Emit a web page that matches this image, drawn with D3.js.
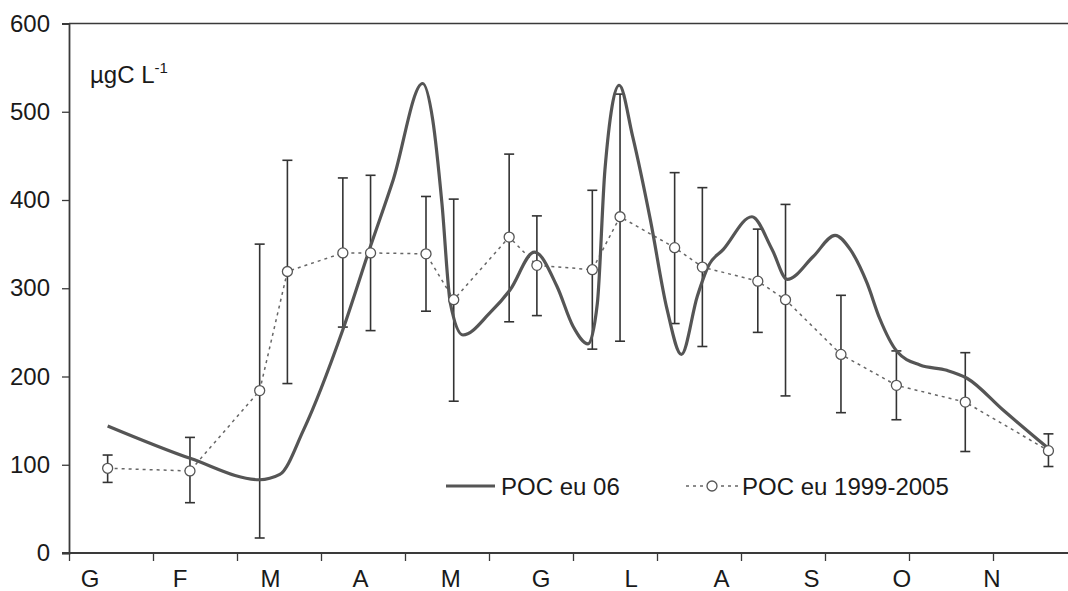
<!DOCTYPE html>
<html lang="en">
<head>
<meta charset="UTF-8" />
<title>POC eu</title>
<script src="https://cdn.jsdelivr.net/npm/d3@7"></script>
<style>
  html, body { margin: 0; background: #fff; }
  svg { display: block; font-family: "Liberation Sans", Arial, sans-serif; }
</style>
</head>
<body>
<div id="chart"></div>
<script>
// x positions are in months from 1 January (0 = start of G, 12 = end of D)
const monthLabels = ["G", "F", "M", "A", "M", "G", "L", "A", "S", "O", "N"];
const yTicks = [0, 100, 200, 300, 400, 500, 600];

// POC eu 06 (smoothed line)
const poc06Month = [0.46, 1.45, 2.27, 2.51, 2.79, 3.26, 3.58, 3.86, 4.21, 4.33, 4.44, 4.54, 4.69, 5.01,
  5.25, 5.54, 5.81, 6.00, 6.18, 6.29, 6.38, 6.55, 6.71, 6.92, 7.12, 7.29, 7.48, 7.61, 7.79, 8.13,
  8.37, 8.55, 8.86, 9.12, 9.30, 9.50, 9.65, 9.86, 10.13, 10.45, 10.69, 11.12, 11.64];
const poc06Value = [144, 107, 83, 89, 139, 253, 345, 423, 532, 491, 396, 283, 247, 272,
  298, 341, 302, 257, 237, 283, 434, 530, 472, 378, 276, 225, 291, 325, 344, 381,
  344, 310, 336, 360, 344, 306, 266, 228, 213, 207, 198, 162, 120];

// POC eu 1999-2005 (mean with range bars)
const climMonth = [0.46, 1.44, 2.27, 2.60, 3.26, 3.59, 4.25, 4.58, 5.24, 5.57, 6.23, 6.56, 7.21, 7.54,
  8.20, 8.53, 9.19, 9.85, 10.67, 11.66];
const climMean = [96, 93, 184, 319, 340, 340, 339, 287, 358, 326, 321, 381, 346, 324, 308, 287, 225, 190, 171, 116];
const climLow  = [80, 57, 17, 192, 256, 252, 274, 172, 262, 269, 231, 240, 260, 234, 250, 178, 159, 151, 115, 98];
const climHigh = [111, 131, 350, 445, 425, 428, 404, 401, 452, 382, 411, 520, 431, 414, 367, 395, 292, 229, 227, 135];

const width = 1068, height = 591;
const svg = d3.select("#chart").append("svg")
  .attr("width", width)
  .attr("height", height);

const x = d3.scaleLinear().domain([0, 12]).range([69, 1077]);
const y = d3.scaleLinear().domain([0, 600]).range([553, 23.5]);
const xLab = d3.scalePoint().domain(d3.range(monthLabels.length)).range([90, 992]);

const axisColor = "#3a3a3a";
const textColor = "#1a1a1a";

// top border line
svg.append("line")
  .attr("x1", x(0)).attr("x2", width)
  .attr("y1", y(600)).attr("y2", y(600))
  .attr("stroke", axisColor).attr("stroke-width", 1.3);

// y axis
const yAxis = svg.append("g")
  .attr("transform", `translate(${x(0)},0)`)
  .call(d3.axisLeft(y).tickValues(yTicks).tickSize(7).tickPadding(12));
yAxis.select(".domain").attr("stroke", axisColor).attr("stroke-width", 1.8);
yAxis.selectAll(".tick line").attr("stroke", axisColor).attr("stroke-width", 1.3);
yAxis.selectAll("text").attr("font-size", 24).attr("fill", textColor)
  .attr("font-family", "Liberation Sans, Arial, sans-serif");

// x axis (ticks at month boundaries)
const xAxis = svg.append("g")
  .attr("transform", `translate(0,${y(0)})`)
  .call(d3.axisBottom(x).tickValues(d3.range(0, 12)).tickSize(8).tickFormat(""));
xAxis.select(".domain").remove();
xAxis.selectAll(".tick line").attr("stroke", axisColor).attr("stroke-width", 1.3);
svg.append("line")
  .attr("x1", x(0) - 7).attr("x2", width)
  .attr("y1", y(0)).attr("y2", y(0))
  .attr("stroke", axisColor).attr("stroke-width", 1.8);

svg.append("g").selectAll("text")
  .data(monthLabels)
  .join("text")
  .attr("x", (d, i) => xLab(i))
  .attr("y", 587)
  .attr("text-anchor", "middle")
  .attr("font-size", 24)
  .attr("fill", textColor)
  .text(d => d);

// unit label
const unit = svg.append("text")
  .attr("x", 90)
  .attr("y", 83)
  .attr("font-size", 24)
  .attr("fill", textColor);
unit.append("tspan").text("µgC L");
unit.append("tspan").attr("dy", -10).attr("font-size", 15).text("-1");

// error bars
const bars = svg.append("g").attr("stroke", "#333").attr("stroke-width", 1.6);
climMonth.forEach((m, i) => {
  const cx = x(m);
  bars.append("line").attr("x1", cx).attr("x2", cx).attr("y1", y(climLow[i])).attr("y2", y(climHigh[i]));
  bars.append("line").attr("x1", cx - 5).attr("x2", cx + 5).attr("y1", y(climLow[i])).attr("y2", y(climLow[i]));
  bars.append("line").attr("x1", cx - 5).attr("x2", cx + 5).attr("y1", y(climHigh[i])).attr("y2", y(climHigh[i]));
});

// dotted climatology line
const climLine = d3.line()
  .x(d => x(d[0]))
  .y(d => y(d[1]));
svg.append("path")
  .datum(climMonth.map((m, i) => [m, climMean[i]]))
  .attr("d", climLine)
  .attr("fill", "none")
  .attr("stroke", "#666")
  .attr("stroke-width", 1.5)
  .attr("stroke-dasharray", "3,4");

// 2006 smoothed line
const pocLine = d3.line()
  .x(d => x(d[0]))
  .y(d => y(d[1]))
  .curve(d3.curveMonotoneX);
svg.append("path")
  .datum(poc06Month.map((m, i) => [m, poc06Value[i]]))
  .attr("d", pocLine)
  .attr("fill", "none")
  .attr("stroke", "#555")
  .attr("stroke-width", 3.2)
  .attr("stroke-linejoin", "round");

// climatology markers
svg.append("g").selectAll("circle")
  .data(climMonth.map((m, i) => [m, climMean[i]]))
  .join("circle")
  .attr("cx", d => x(d[0]))
  .attr("cy", d => y(d[1]))
  .attr("r", 5)
  .attr("fill", "#fff")
  .attr("stroke", "#555")
  .attr("stroke-width", 1.3);

// legend
const legend = svg.append("g");
legend.append("line")
  .attr("x1", 446).attr("x2", 495).attr("y1", 486).attr("y2", 486)
  .attr("stroke", "#555").attr("stroke-width", 3.2);
legend.append("text")
  .attr("x", 501).attr("y", 495)
  .attr("font-size", 24).attr("fill", textColor)
  .text("POC eu 06");
legend.append("line")
  .attr("x1", 686).attr("x2", 738).attr("y1", 486).attr("y2", 486)
  .attr("stroke", "#666").attr("stroke-width", 1.5).attr("stroke-dasharray", "3,4");
legend.append("circle")
  .attr("cx", 712).attr("cy", 486).attr("r", 5)
  .attr("fill", "#fff").attr("stroke", "#555").attr("stroke-width", 1.3);
legend.append("text")
  .attr("x", 742).attr("y", 495)
  .attr("font-size", 24).attr("fill", textColor)
  .text("POC eu 1999-2005");
</script>
</body>
</html>
